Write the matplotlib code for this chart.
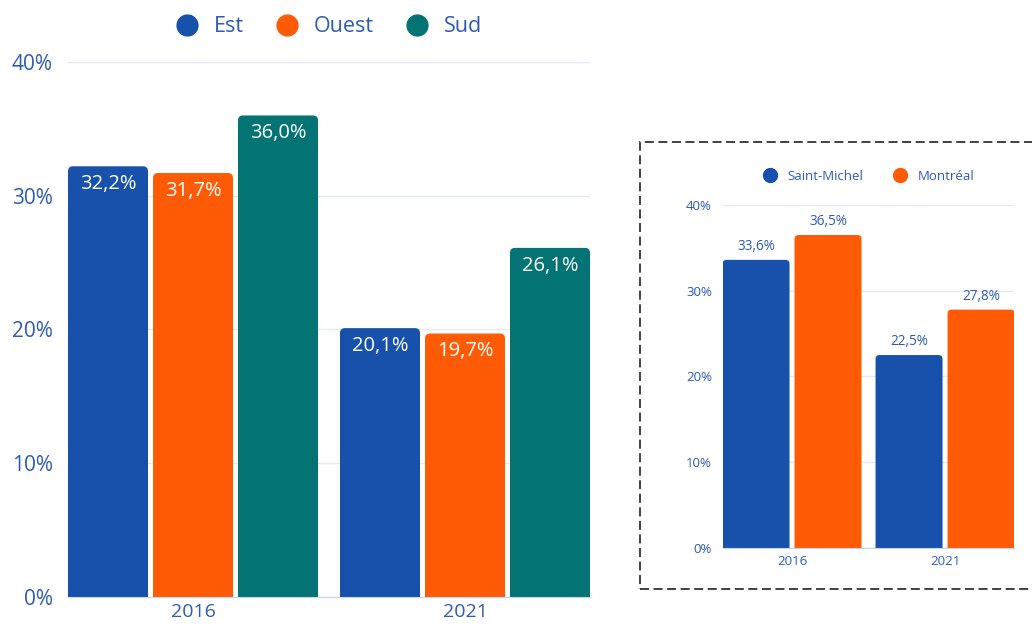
import matplotlib
matplotlib.use("Agg")
import matplotlib.pyplot as plt
from matplotlib.patches import FancyBboxPatch, Rectangle
from matplotlib.lines import Line2D
import matplotlib.ticker as mticker

plt.rcParams.update({
    'font.family': ['Open Sans', 'DejaVu Sans'],
})

# data
years = ['2016', '2021']
regions = ['Est', 'Ouest', 'Sud']
est = [32.2, 20.1]
ouest = [31.7, 19.7]
sud = [36.0, 26.1]

inset_series = ['Saint-Michel', 'Montréal']
saint_michel = [33.6, 22.5]
montreal = [36.5, 27.8]

BLUE = '#1751AB'
ORANGE = '#FF5B07'
TEAL = '#037373'
TXT = '#2D5BB6'
GRID = '#E4E9F4'
AXIS = '#C6D4EC'


def fmt(v):
    return f"{v:.1f}%".replace('.', ',')


def rounded_bar(ax, x, w, h, color, r, aspect):
    p = FancyBboxPatch((x, -r * aspect * 2), w, h + r * aspect * 2,
                       boxstyle=f"round,pad=0,rounding_size={r}",
                       mutation_aspect=aspect, fc=color, ec='none', zorder=3)
    ax.add_patch(p)


def style_axes(ax, fs_y, fs_x, pad_y, pad_x):
    ax.set_ylim(0, 40)
    ax.yaxis.set_major_locator(mticker.MultipleLocator(10))
    ax.yaxis.set_major_formatter(mticker.FuncFormatter(lambda v, p: f"{v:.0f}%"))
    ax.grid(axis='y', color=GRID, lw=1, zorder=0)
    ax.set_axisbelow(True)
    for s in ['top', 'right', 'left']:
        ax.spines[s].set_visible(False)
    ax.spines['bottom'].set_color(AXIS)
    ax.spines['bottom'].set_zorder(4)
    ax.tick_params(length=0, colors=TXT)
    ax.tick_params(axis='y', pad=pad_y, labelsize=fs_y)
    ax.tick_params(axis='x', pad=pad_x, labelsize=fs_x)
    ax.set_xticks(range(len(years)))
    ax.set_xticklabels(years)


fig = plt.figure(figsize=(10.32, 6.24), dpi=100)

# main chart
ax = fig.add_axes([0.0659, 0.0433, 0.5058, 0.8574])
bw = 80 / 272
step = 85 / 272
ax.set_xlim(-125 / 272, 1 + 125 / 272)
main_aspect = (5 / 13.375) / (5 / 272)
for i, (vals, col) in enumerate(zip([est, ouest, sud], [BLUE, ORANGE, TEAL])):
    for g, v in enumerate(vals):
        x0 = g + (i - 1) * step - bw / 2
        rounded_bar(ax, x0, bw, v, col, 5 / 272, main_aspect)
        ax.annotate(fmt(v), (x0 + bw / 2, v), xytext=(0, -5.5),
                    textcoords='offset points', ha='center', va='top',
                    color='white', fontsize=14.5, zorder=5)
style_axes(ax, 15, 14, 11, 4)

handles = [Line2D([], [], marker='o', ls='none', color=c, markersize=15)
           for c in [BLUE, ORANGE, TEAL]]
leg = ax.legend(handles, regions, loc='lower center', bbox_to_anchor=(0.49, 1.03),
                ncol=3, frameon=False, fontsize=15.5, handletextpad=0.25,
                columnspacing=1.0, borderaxespad=0)
for t in leg.get_texts():
    t.set_color(TXT)

# dashed frame around inset
fig.add_artist(Rectangle((0.6205, 0.056), 0.39, 0.7164, transform=fig.transFigure,
                         fill=False, ec='#333333', ls=(0, (5, 2.5)), lw=1.3))

# inset chart
ax2 = fig.add_axes([0.7006, 0.1218, 0.282, 0.5497])
bw2 = 67 / 153
step2 = 72 / 153
ax2.set_xlim(-69 / 153, 1 + 69 / 153)
ins_aspect = (4 / 8.575) / (4 / 153)
for i, (vals, col) in enumerate(zip([saint_michel, montreal], [BLUE, ORANGE])):
    for g, v in enumerate(vals):
        x0 = g + (i - 0.5) * step2 - bw2 / 2
        rounded_bar(ax2, x0, bw2, v, col, 4 / 153, ins_aspect)
        ax2.annotate(fmt(v), (x0 + bw2 / 2, v), xytext=(0, 4),
                     textcoords='offset points', ha='center', va='bottom',
                     color=TXT, fontsize=9.8, zorder=5)
style_axes(ax2, 9.5, 9.5, 8, 5)

handles2 = [Line2D([], [], marker='o', ls='none', color=c, markersize=10)
            for c in [BLUE, ORANGE]]
leg2 = ax2.legend(handles2, inset_series, loc='lower center', bbox_to_anchor=(0.49, 1.05),
                  ncol=2, frameon=False, fontsize=9.5, handletextpad=0.3,
                  columnspacing=1.8, borderaxespad=0)
for t in leg2.get_texts():
    t.set_color(TXT)

fig.savefig('out.png', dpi=100)
